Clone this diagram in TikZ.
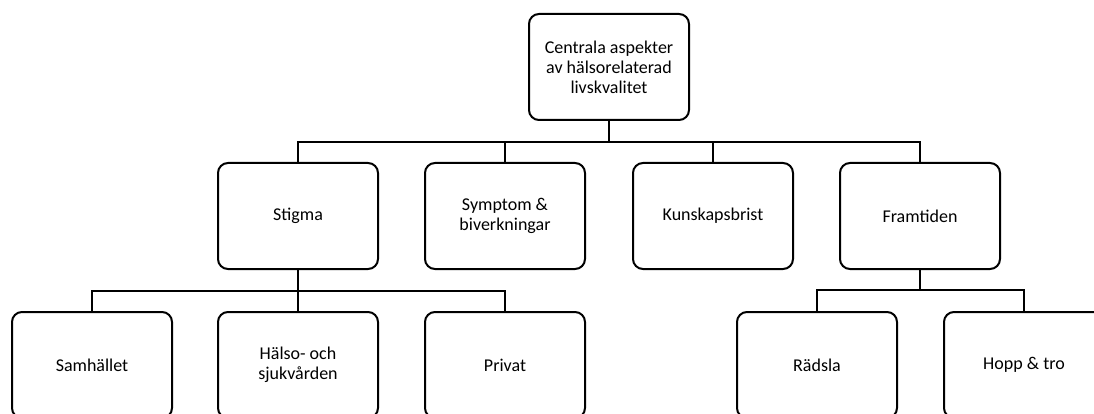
\documentclass[tikz,border=0pt]{standalone}
\usepackage{fontspec}
\setmainfont{Carlito}
\begin{document}
\begin{tikzpicture}[x=1pt,y=-1pt,
  box/.style={draw, line width=2pt, rounded corners=10pt, minimum width=160pt, minimum height=106pt,
    align=center, inner sep=2pt, font=\fontsize{18}{20}\selectfont},
  conn/.style={line width=2pt}]
\useasboundingbox (0,0) rectangle (1094,414);
\clip (0,0) rectangle (1094,414);
\node[box] (top) at (609,67) {Centrala aspekter\\av hälsorelaterad\\livskvalitet};
\node[box] (stigma) at (298,216) {Stigma};
\node[box] (symptom) at (505,216) {Symptom \&\\biverkningar};
\node[box] (kunskap) at (713,216) {Kunskapsbrist};
\node[box] (framtid) at (920,216) {Framtiden};
\node[box] (samh) at (92,365) {Samhället};
\node[box] (halso) at (298,365) {Hälso- och\\sjukvården};
\node[box] (privat) at (505,365) {Privat};
\node[box] (radsla) at (817,365) {Rädsla};
\node[box] (hopp) at (1024,365) {Hopp \& tro};
\coordinate (b1) at (609,142);
\coordinate (b2) at (298,291);
\coordinate (b3) at (920,290);
\draw[conn] (top.south) -- (b1);
\foreach \n in {stigma,symptom,kunskap,framtid} \draw[conn] (b1) -| (\n.north);
\draw[conn] (stigma.south) -- (b2);
\foreach \n in {samh,halso,privat} \draw[conn] (b2) -| (\n.north);
\draw[conn] (framtid.south) -- (b3);
\foreach \n in {radsla,hopp} \draw[conn] (b3) -| (\n.north);
\end{tikzpicture}
\end{document}
